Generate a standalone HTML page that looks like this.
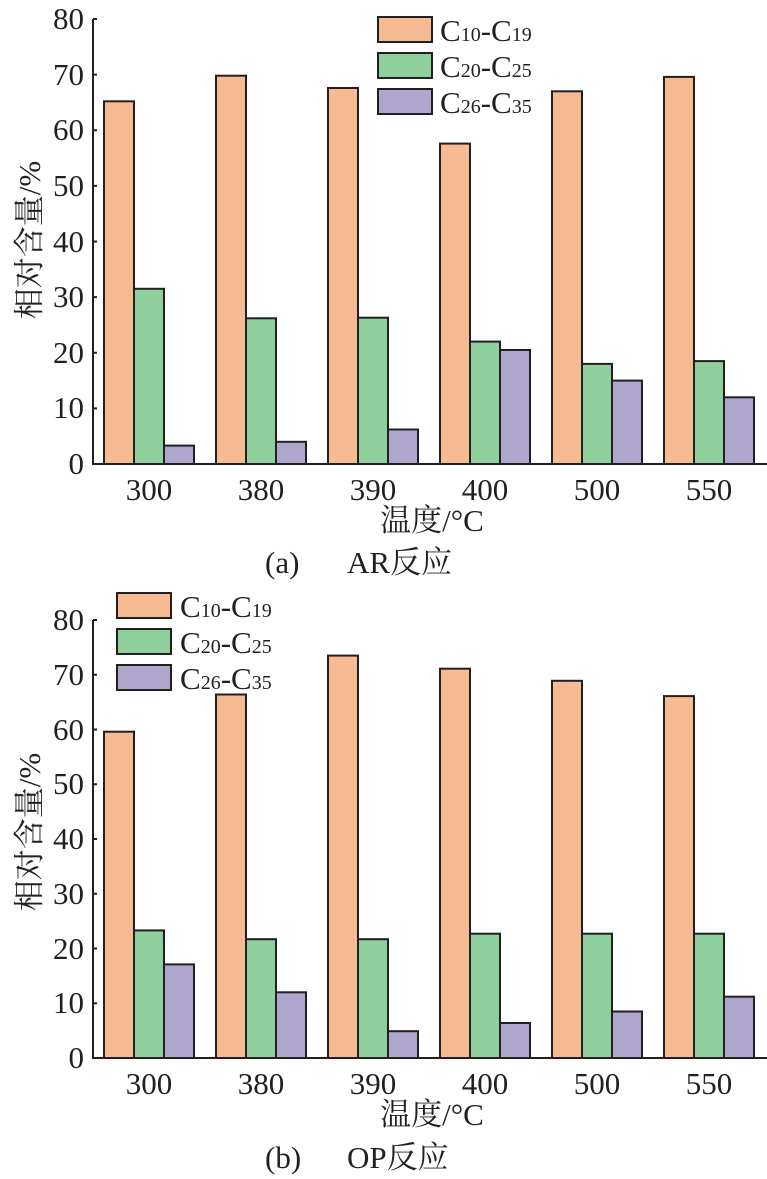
<!DOCTYPE html>
<html><head><meta charset="utf-8"><style>body{margin:0;background:#fff}svg{display:block}text{font-family:"Liberation Serif","Noto Serif CJK SC",serif;fill:#231f20}</style></head><body>
<svg width="767" height="1179" viewBox="0 0 767 1179">
<defs><style>.o{fill:#f7bb93;stroke:#231f20;stroke-width:2}.g{fill:#8fcf9e;stroke:#231f20;stroke-width:2}.p{fill:#b0a5cd;stroke:#231f20;stroke-width:2}.t{font-size:31px}.ax{stroke:#231f20;stroke-width:2;fill:none}</style></defs>
<g>
<rect class="o" x="104" y="101.3" width="30" height="362.7"/><rect class="g" x="134" y="288.8" width="30" height="175.2"/><rect class="p" x="164" y="445.6" width="30" height="18.4"/>
<rect class="o" x="216" y="75.7" width="30" height="388.3"/><rect class="g" x="246" y="318.3" width="30" height="145.7"/><rect class="p" x="276" y="441.8" width="30" height="22.2"/>
<rect class="o" x="328" y="88" width="30" height="376"/><rect class="g" x="358" y="317.7" width="30" height="146.3"/><rect class="p" x="388" y="429.5" width="30" height="34.5"/>
<rect class="o" x="440" y="143.6" width="30" height="320.4"/><rect class="g" x="470" y="341.6" width="30" height="122.4"/><rect class="p" x="500" y="350" width="30" height="114"/>
<rect class="o" x="552" y="91.3" width="30" height="372.7"/><rect class="g" x="582" y="363.9" width="30" height="100.1"/><rect class="p" x="612" y="380.6" width="30" height="83.4"/>
<rect class="o" x="664" y="76.9" width="30" height="387.1"/><rect class="g" x="694" y="361.1" width="30" height="102.9"/><rect class="p" x="724" y="397.3" width="30" height="66.7"/>
<path class="ax" d="M93 19V464H767M93 19h4M93 74.6h4M93 130.3h4M93 185.9h4M93 241.5h4M93 297.1h4M93 352.8h4M93 408.4h4"/>
<g class="t" text-anchor="end"><text x="84" y="29">80</text><text x="84" y="85">70</text><text x="84" y="140">60</text><text x="84" y="196">50</text><text x="84" y="252">40</text><text x="84" y="307">30</text><text x="84" y="363">20</text><text x="84" y="418">10</text><text x="84" y="474">0</text></g>
<g class="t" text-anchor="middle"><text x="149" y="500">300</text><text x="261" y="500">380</text><text x="373" y="500">390</text><text x="485" y="500">400</text><text x="597" y="500">500</text><text x="709" y="500">550</text></g>
<text class="t" x="432" y="531" text-anchor="middle">温度/°C</text>
<text class="t" x="265" y="573">(a)</text><text class="t" x="347" y="573">AR反应</text>
<text class="t" transform="translate(40,240) rotate(-90)" text-anchor="middle">相对含量/%</text>
<rect class="o" x="378" y="17" width="54" height="25"/><rect class="g" x="378" y="53" width="54" height="25"/><rect class="p" x="378" y="89" width="54" height="25"/>
<text x="440" y="41" font-size="31">C<tspan font-size="20">10</tspan>-C<tspan font-size="20">19</tspan></text>
<text x="440" y="77" font-size="31">C<tspan font-size="20">20</tspan>-C<tspan font-size="20">25</tspan></text>
<text x="440" y="113" font-size="31">C<tspan font-size="20">26</tspan>-C<tspan font-size="20">35</tspan></text>
</g>
<g>
<rect class="o" x="104" y="731.7" width="30" height="326.3"/><rect class="g" x="134" y="930.4" width="30" height="127.6"/><rect class="p" x="164" y="964.4" width="30" height="93.6"/>
<rect class="o" x="216" y="694.5" width="30" height="363.5"/><rect class="g" x="246" y="939.2" width="30" height="118.8"/><rect class="p" x="276" y="992.3" width="30" height="65.7"/>
<rect class="o" x="328" y="655.6" width="30" height="402.4"/><rect class="g" x="358" y="939.2" width="30" height="118.8"/><rect class="p" x="388" y="1031.2" width="30" height="26.8"/>
<rect class="o" x="440" y="668.7" width="30" height="389.3"/><rect class="g" x="470" y="933.7" width="30" height="124.3"/><rect class="p" x="500" y="1023" width="30" height="35"/>
<rect class="o" x="552" y="680.8" width="30" height="377.2"/><rect class="g" x="582" y="933.7" width="30" height="124.3"/><rect class="p" x="612" y="1011.5" width="30" height="46.5"/>
<rect class="o" x="664" y="696.1" width="30" height="361.9"/><rect class="g" x="694" y="933.7" width="30" height="124.3"/><rect class="p" x="724" y="996.7" width="30" height="61.3"/>
<path class="ax" d="M93 620V1058H767M93 620h4M93 674.8h4M93 729.5h4M93 784.3h4M93 839h4M93 893.8h4M93 948.5h4M93 1003.3h4"/>
<g class="t" text-anchor="end"><text x="84" y="630">80</text><text x="84" y="685">70</text><text x="84" y="740">60</text><text x="84" y="794">50</text><text x="84" y="849">40</text><text x="84" y="904">30</text><text x="84" y="959">20</text><text x="84" y="1013">10</text><text x="84" y="1068">0</text></g>
<g class="t" text-anchor="middle"><text x="149" y="1094">300</text><text x="261" y="1094">380</text><text x="373" y="1094">390</text><text x="485" y="1094">400</text><text x="597" y="1094">500</text><text x="709" y="1094">550</text></g>
<text class="t" x="432" y="1125" text-anchor="middle">温度/°C</text>
<text class="t" x="265" y="1168">(b)</text><text class="t" x="347" y="1168">OP反应</text>
<text class="t" transform="translate(40,832) rotate(-90)" text-anchor="middle">相对含量/%</text>
<rect class="o" x="117" y="593" width="54" height="25"/><rect class="g" x="117" y="629" width="54" height="25"/><rect class="p" x="117" y="665" width="54" height="25"/>
<text x="180" y="617" font-size="31">C<tspan font-size="20">10</tspan>-C<tspan font-size="20">19</tspan></text>
<text x="180" y="653" font-size="31">C<tspan font-size="20">20</tspan>-C<tspan font-size="20">25</tspan></text>
<text x="180" y="689" font-size="31">C<tspan font-size="20">26</tspan>-C<tspan font-size="20">35</tspan></text>
</g>
</svg>
</body></html>
